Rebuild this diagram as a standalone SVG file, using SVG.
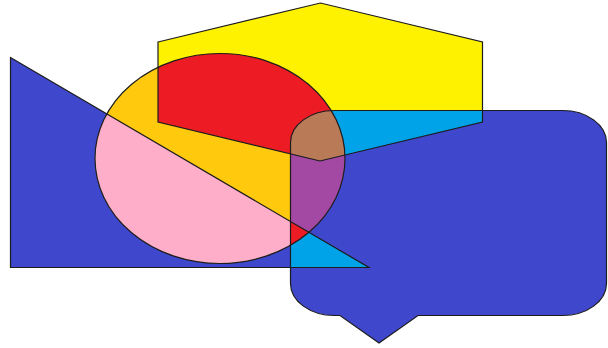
<svg xmlns="http://www.w3.org/2000/svg" xmlns:xlink="http://www.w3.org/1999/xlink" width="608" height="348" viewBox="0 0 608 348">
<style>
.line{fill:none;stroke:#1c1c1c;stroke-width:1.2;stroke-linejoin:miter}
</style>
<defs>
<path id="tri" d="M10.5 57.5 L10.5 267.5 L369 267.5 Z"/>
<path id="hex" d="M158 42 L320.5 3 L482.5 42 L482.5 122 L320 161 L158 122 Z"/>
<ellipse id="ell" cx="220" cy="158.5" rx="125" ry="105"/>
<path id="bub" d="M334.5 110.5 H562.5 A44 32 0 0 1 606.5 142.5 V283.5 A44 32 0 0 1 562.5 315.5 H418 L379 343 L340 315.5 H334.5 A44 32 0 0 1 290.5 283.5 V142.5 A44 32 0 0 1 334.5 110.5 Z"/>
<clipPath id="cT"><use xlink:href="#tri"/></clipPath>
<clipPath id="cH"><use xlink:href="#hex"/></clipPath>
<clipPath id="cB"><use xlink:href="#bub"/></clipPath>
</defs>
<rect width="608" height="348" fill="#ffffff"/>
<g id="fills">
<use xlink:href="#tri" fill="#3F48CC"/>
<use xlink:href="#hex" fill="#FFF200"/>
<use xlink:href="#bub" fill="#3F48CC"/>
<use xlink:href="#bub" fill="#00A2E8" clip-path="url(#cH)"/>
<use xlink:href="#bub" fill="#00A2E8" clip-path="url(#cT)"/>
<use xlink:href="#ell" fill="#FFC90E"/>
<use xlink:href="#ell" fill="#FFAEC9" clip-path="url(#cT)"/>
<use xlink:href="#ell" fill="#ED1C24" clip-path="url(#cH)"/>
<use xlink:href="#ell" fill="#A349A4" clip-path="url(#cB)"/>
<g clip-path="url(#cH)"><use xlink:href="#ell" fill="#B97A57" clip-path="url(#cB)"/></g>
<g clip-path="url(#cT)"><use xlink:href="#ell" fill="#ED1C24" clip-path="url(#cB)"/></g>
</g>
<g id="triangle"><use xlink:href="#tri" class="line"/></g>
<g id="hexagon"><use xlink:href="#hex" class="line"/></g>
<g id="ellipse"><use xlink:href="#ell" class="line"/></g>
<g id="bubble"><use xlink:href="#bub" class="line"/></g>
</svg>
